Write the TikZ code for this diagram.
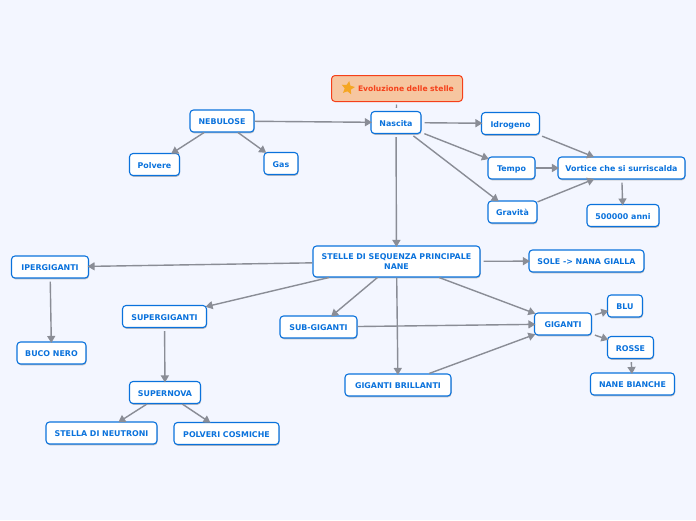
\documentclass[tikz,border=0pt]{standalone}
\usepackage{fontspec}
\setmainfont{DejaVu Sans}
\usetikzlibrary{arrows.meta,shadows,shapes.geometric}
\definecolor{bgc}{HTML}{F3F6FF}
\definecolor{nodeblue}{HTML}{0A72DC}
\definecolor{linkc}{HTML}{8A8D96}
\definecolor{titlefill}{HTML}{F6C6A0}
\definecolor{titlered}{HTML}{F5401A}
\definecolor{stary}{HTML}{F5A623}
\tikzset{
  x=1pt,y=-1pt,
  topic/.style={draw=nodeblue,line width=1.1pt,fill=white,rounded corners=3.5pt,
    text=nodeblue,font=\bfseries\fontsize{7.9}{9.6}\selectfont,align=center,inner sep=0pt,
    drop shadow={shadow xshift=0.5pt,shadow yshift=-1.3pt,fill=black!50,opacity=.5}},
  titlebox/.style={draw=titlered,line width=1pt,fill=titlefill,rounded corners=3.5pt,
    text=titlered,font=\bfseries\fontsize{7.6}{9.6}\selectfont,inner sep=0pt},
  linkbase/.style={draw=linkc,line width=1.4pt,shorten >=-1.5pt,-{Triangle[length=7pt,width=8pt]}},
  link/.style={linkbase,shorten <=3pt},
  flushlink/.style={linkbase},
  plainlink/.style={draw=linkc,line width=1.4pt,shorten <=2.5pt,shorten >=3pt},
}
\newcommand{\topicnode}[5]{\node[topic,minimum width=#3pt,minimum height=#4pt,text height=7pt,text depth=0pt] (#1) at (#2) {#5};}
\begin{document}
\begin{tikzpicture}
\useasboundingbox[fill=bgc] (0,0) rectangle (696,520);
\node[titlebox,minimum width=131pt,minimum height=26pt,text width=130pt,align=left] (title) at (397,88.5) {\hspace*{26pt}Evoluzione delle stelle};
\node[star,star points=5,star point ratio=2.1,fill=stary,inner sep=0pt,minimum size=14pt,rotate=-10] (staricon) at (348,88) {};
\topicnode{nascita}{396,122.5}{50}{22}{Nascita}
\topicnode{nebulose}{222,121}{64}{22}{NEBULOSE}
\topicnode{polvere}{154.5,164.5}{50}{22}{Polvere}
\topicnode{gas}{281,163.5}{34}{22}{Gas}
\topicnode{idrogeno}{510.5,123.5}{58}{22}{Idrogeno}
\topicnode{tempo}{511.5,168}{47}{22}{Tempo}
\topicnode{gravita}{512.5,212}{49}{22}{Gravità}
\topicnode{vortice}{621.5,168}{127}{22}{Vortice che si surriscalda}
\topicnode{anni}{623,215.5}{72}{22}{500000 anni}
\node[topic,minimum width=167pt,minimum height=31pt] (stelle) at (396.5,261.5) {STELLE DI SEQUENZA PRINCIPALE\\NANE};
\topicnode{sole}{586.5,261}{115}{22}{SOLE -> NANA GIALLA}
\topicnode{iper}{50,267}{77}{22}{IPERGIGANTI}
\topicnode{buco}{51.5,353}{69}{22}{BUCO NERO}
\topicnode{super}{164.5,316.5}{84}{22}{SUPERGIGANTI}
\topicnode{subg}{318.5,327}{77}{22}{SUB-GIGANTI}
\topicnode{giganti}{563,324}{57}{22}{GIGANTI}
\topicnode{blu}{625,306}{35}{22}{BLU}
\topicnode{rosse}{630.5,347.5}{46}{22}{ROSSE}
\topicnode{bianche}{632.5,384}{84}{22}{NANE BIANCHE}
\topicnode{brillanti}{398,385}{106}{22}{GIGANTI BRILLANTI}
\topicnode{supernova}{165,392.5}{71}{22}{SUPERNOVA}
\topicnode{neutroni}{101.5,433}{111}{22}{STELLA DI NEUTRONI}
\topicnode{cosmiche}{226.5,433.5}{105}{22}{POLVERI COSMICHE}
\draw[plainlink] (title) -- (nascita);
\draw[flushlink] (nebulose) -- (nascita);
\draw[flushlink] (nebulose) -- (polvere);
\draw[flushlink] (nebulose) -- (gas);
\draw[link] (nascita) -- (idrogeno);
\draw[link] (nascita) -- (tempo);
\draw[link] (nascita) -- (gravita);
\draw[link] (nascita) -- (stelle);
\draw[link] (idrogeno) -- (vortice);
\draw[flushlink] (tempo) -- (vortice);
\draw[flushlink] (gravita) -- (vortice);
\draw[link] (vortice) -- (anni);
\draw[link] (stelle) -- (sole);
\draw[flushlink] (stelle) -- (iper);
\draw[flushlink] (stelle) -- (super);
\draw[flushlink] (stelle) -- (subg);
\draw[flushlink] (stelle) -- (brillanti);
\draw[flushlink] (stelle) -- (giganti);
\draw[flushlink] (subg) -- (giganti);
\draw[flushlink] (brillanti) -- (giganti);
\draw[link] (giganti) -- (blu);
\draw[link] (giganti) -- (rosse);
\draw[link] (rosse) -- (bianche);
\draw[link] (iper) -- (buco);
\draw[link] (super) -- (supernova);
\draw[flushlink] (supernova) -- (neutroni);
\draw[flushlink] (supernova) -- (cosmiche);
\end{tikzpicture}
\end{document}
